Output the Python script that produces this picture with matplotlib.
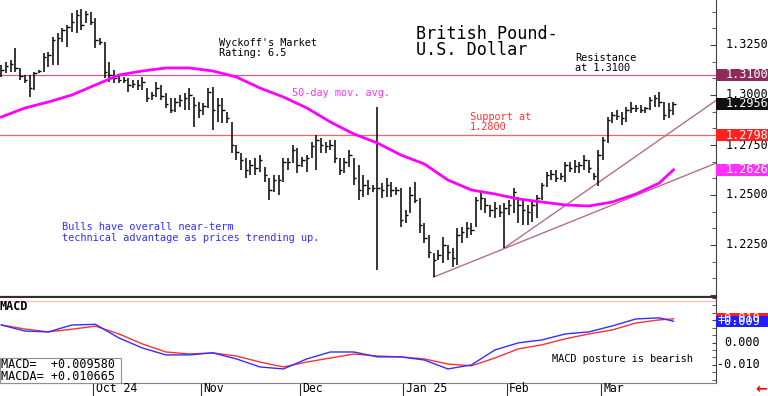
import numpy as np
import pandas as pd
import matplotlib
matplotlib.use("Agg")
import matplotlib.pyplot as plt
from matplotlib.patches import Rectangle
from matplotlib.ticker import MultipleLocator, AutoMinorLocator

plt.rcParams["font.family"] = ["DejaVu Sans Mono", "DejaVu Sans"]

# ------------------------------------------------------------
# Data
# ------------------------------------------------------------

# trading days shown: weekdays, New Year's Day left out
dates = pd.bdate_range("2024-09-03", "2025-03-24")
dates = dates[dates != pd.Timestamp("2025-01-01")]

highs = [
    1.3150, 1.3165, 1.3175, 1.3235, 1.3135, 1.3100, 1.3100, 1.3115, 1.3125, 1.3210,
    1.3215, 1.3290, 1.3310, 1.3335, 1.3350, 1.3410, 1.3425, 1.3430, 1.3420, 1.3415,
    1.3385, 1.3285, 1.3265, 1.3165, 1.3125, 1.3100, 1.3090, 1.3085, 1.3075, 1.3075,
    1.3090, 1.3035, 1.3015, 1.3065, 1.3050, 1.3010, 1.2985, 1.2985, 1.3000, 1.3010,
    1.3035, 1.2990, 1.2965, 1.2960, 1.3035, 1.3040, 1.2985, 1.2985, 1.2915, 1.2865,
    1.2750, 1.2710, 1.2685, 1.2675, 1.2685, 1.2700, 1.2640, 1.2585, 1.2600, 1.2600,
    1.2685, 1.2685, 1.2750, 1.2735, 1.2690, 1.2700, 1.2765, 1.2800, 1.2785, 1.2765,
    1.2775, 1.2775, 1.2685, 1.2685, 1.2725, 1.2685, 1.2650, 1.2600, 1.2575, 1.2550,
    1.2940, 1.2560, 1.2585, 1.2565, 1.2540, 1.2535, 1.2425, 1.2540, 1.2565, 1.2485,
    1.2360, 1.2300, 1.2210, 1.2225, 1.2290, 1.2250, 1.2235, 1.2335, 1.2340, 1.2365,
    1.2360, 1.2490, 1.2515, 1.2485, 1.2450, 1.2465, 1.2450, 1.2460, 1.2475, 1.2535,
    1.2490, 1.2475, 1.2450, 1.2475, 1.2500, 1.2560, 1.2615, 1.2625, 1.2625, 1.2610,
    1.2665, 1.2665, 1.2675, 1.2665, 1.2700, 1.2675, 1.2610, 1.2725, 1.2790, 1.2890,
    1.2915, 1.2925, 1.2915, 1.2940, 1.2965, 1.2950, 1.2950, 1.2940, 1.2990, 1.3000,
    1.3015, 1.2965, 1.2960, 1.2965,
]
lows = [
    1.3090, 1.3110, 1.3115, 1.3115, 1.3075, 1.3060, 1.2990, 1.3025, 1.3110, 1.3115,
    1.3140, 1.3150, 1.3150, 1.3265, 1.3240, 1.3315, 1.3310, 1.3325, 1.3360, 1.3350,
    1.3235, 1.3250, 1.3085, 1.3065, 1.3060, 1.3060, 1.3060, 1.3015, 1.3035, 1.3025,
    1.3025, 1.2965, 1.2975, 1.2990, 1.2975, 1.2935, 1.2910, 1.2915, 1.2940, 1.2925,
    1.2925, 1.2840, 1.2885, 1.2900, 1.2935, 1.2825, 1.2865, 1.2860, 1.2860, 1.2710,
    1.2675, 1.2625, 1.2585, 1.2600, 1.2600, 1.2615, 1.2565, 1.2475, 1.2515, 1.2500,
    1.2565, 1.2625, 1.2660, 1.2610, 1.2640, 1.2615, 1.2685, 1.2625, 1.2710, 1.2710,
    1.2725, 1.2660, 1.2600, 1.2610, 1.2640, 1.2550, 1.2475, 1.2490, 1.2500, 1.2515,
    1.2125, 1.2485, 1.2490, 1.2490, 1.2500, 1.2340, 1.2360, 1.2410, 1.2460, 1.2310,
    1.2260, 1.2185, 1.2090, 1.2175, 1.2160, 1.2175, 1.2140, 1.2150, 1.2260, 1.2285,
    1.2300, 1.2340, 1.2425, 1.2410, 1.2390, 1.2385, 1.2390, 1.2235, 1.2400, 1.2410,
    1.2360, 1.2350, 1.2350, 1.2365, 1.2385, 1.2475, 1.2540, 1.2575, 1.2565, 1.2575,
    1.2565, 1.2615, 1.2610, 1.2610, 1.2625, 1.2610, 1.2575, 1.2545, 1.2675, 1.2760,
    1.2860, 1.2875, 1.2850, 1.2865, 1.2910, 1.2915, 1.2910, 1.2910, 1.2925, 1.2940,
    1.2940, 1.2875, 1.2885, 1.2900,
]
closes = [
    1.3125, 1.3145, 1.3155, 1.3135, 1.3095, 1.3075, 1.3035, 1.3110, 1.3120, 1.3190,
    1.3200, 1.3275, 1.3285, 1.3325, 1.3340, 1.3365, 1.3400, 1.3350, 1.3405, 1.3365,
    1.3275, 1.3265, 1.3115, 1.3100, 1.3085, 1.3075, 1.3075, 1.3050, 1.3055, 1.3050,
    1.3065, 1.2985, 1.3000, 1.3035, 1.2995, 1.2955, 1.2925, 1.2965, 1.2975, 1.2985,
    1.3000, 1.2950, 1.2925, 1.2945, 1.3015, 1.2925, 1.2950, 1.2925, 1.2885, 1.2750,
    1.2715, 1.2675, 1.2625, 1.2650, 1.2635, 1.2675, 1.2600, 1.2525, 1.2575, 1.2575,
    1.2665, 1.2665, 1.2725, 1.2650, 1.2675, 1.2685, 1.2745, 1.2775, 1.2750, 1.2745,
    1.2750, 1.2685, 1.2625, 1.2665, 1.2700, 1.2585, 1.2525, 1.2550, 1.2535, 1.2535,
    1.2535, 1.2525, 1.2550, 1.2525, 1.2525, 1.2375, 1.2400, 1.2500, 1.2475, 1.2350,
    1.2285, 1.2215, 1.2175, 1.2200, 1.2250, 1.2215, 1.2185, 1.2300, 1.2315, 1.2335,
    1.2325, 1.2475, 1.2485, 1.2450, 1.2425, 1.2435, 1.2415, 1.2435, 1.2450, 1.2515,
    1.2450, 1.2425, 1.2415, 1.2450, 1.2485, 1.2550, 1.2600, 1.2605, 1.2585, 1.2595,
    1.2650, 1.2635, 1.2645, 1.2650, 1.2675, 1.2635, 1.2595, 1.2700, 1.2775, 1.2875,
    1.2900, 1.2895, 1.2885, 1.2925, 1.2935, 1.2935, 1.2925, 1.2935, 1.2975, 1.2985,
    1.2965, 1.2900, 1.2925, 1.2956,
]

# 50-day moving average, read every 5 bars
MA_IDX = list(range(0, 141, 5)) + [143]
MA_VAL = [
    1.2890, 1.2935, 1.2965, 1.3000, 1.3050, 1.3100, 1.3120, 1.3135, 1.3135, 1.3120,
    1.3090, 1.3035, 1.2990, 1.2935, 1.2865, 1.2805, 1.2760, 1.2700, 1.2655, 1.2575,
    1.2525, 1.2505, 1.2480, 1.2465, 1.2450, 1.2445, 1.2465, 1.2505, 1.2560, 1.2626,
]

# MACD and its average, read every 5 bars
MACD_IDX = list(range(0, 141, 5)) + [143]
MACD = [
    0.0079, 0.0052, 0.0048, 0.0079, 0.0082, 0.0021, -0.0024, -0.0055, -0.0055, -0.0046,
    -0.0073, -0.0109, -0.0118, -0.0073, -0.0042, -0.0042, -0.0064, -0.0064, -0.0078, -0.0118,
    -0.0100, -0.0033, -0.0001, 0.0012, 0.0039, 0.0048, 0.0075, 0.0106, 0.0111, 0.009580,
]
MACDA = [
    0.0079, 0.0061, 0.0048, 0.0060, 0.0074, 0.0039, -0.0006, -0.0042, -0.0051, -0.0046,
    -0.0060, -0.0087, -0.0109, -0.0087, -0.0069, -0.0051, -0.0060, -0.0064, -0.0073, -0.0096,
    -0.0104, -0.0069, -0.0028, -0.0010, 0.0017, 0.0039, 0.0057, 0.0088, 0.0102, 0.010665,
]

# trend lines (bar index, price)
TREND_LOW_X = [92, 153]
TREND_LOW_Y = [1.2090, 1.2668]
TREND_HIGH_X = [107, 153]
TREND_HIGH_Y = [1.2235, 1.2988]

RESISTANCE = 1.3100
SUPPORT = 1.2798
LAST_CLOSE = 1.2956
LAST_MA = 1.2626

MONTH_LABELS = ["Oct 24", "Nov", "Dec", "Jan 25", "Feb", "Mar"]
PRICE_TICKS = [1.2250, 1.2500, 1.2750, 1.3000, 1.3250]

# ------------------------------------------------------------
# Layout
# ------------------------------------------------------------

W, H = 768, 396
fig = plt.figure(figsize=(W / 100, H / 100), dpi=100)
ax = fig.add_axes([0, 99 / H, 716 / W, 297 / H])
ax2 = fig.add_axes([0, 13 / H, 716 / W, 85 / H])

idx = np.arange(len(dates))
XMIN, XMAX = -0.29, 152.05

# ---------- price bars ----------
ax.vlines(idx, lows, highs, color="black", lw=1.1, zorder=3)
ax.hlines(closes, idx, idx + 0.5, color="black", lw=1.0, zorder=3)

ax.plot(MA_IDX, MA_VAL, color="#ff00ff", lw=2, zorder=4)
ax.axhline(RESISTANCE, color="#c0609a", lw=0.9, zorder=2)
ax.axhline(SUPPORT, color="#ff6060", lw=0.9, zorder=2)
ax.plot(TREND_LOW_X, TREND_LOW_Y, color="#b0708f", lw=1, zorder=2)
ax.plot(TREND_HIGH_X, TREND_HIGH_Y, color="#b0708f", lw=1, zorder=2)

ax.set_xlim(XMIN, XMAX)
ax.set_ylim(1.1990, 1.3475)
ax.set_xticks([])
ax.yaxis.tick_right()
ax.yaxis.set_major_locator(MultipleLocator(0.025))
ax.yaxis.set_minor_locator(AutoMinorLocator(3))
ax.tick_params(axis="y", which="both", direction="in", labelright=False,
               color="#404040")
ax.tick_params(axis="y", which="major", length=4)
ax.tick_params(axis="y", which="minor", length=3)
for s in ["left", "top"]:
    ax.spines[s].set_visible(False)
ax.spines["right"].set_color("#404040")
ax.spines["bottom"].set_color("#303030")
ax.spines["bottom"].set_linewidth(1.6)

ytr = ax.get_yaxis_transform()
for v in PRICE_TICKS:
    ax.text(726 / 716, v, f"{v:.4f}", transform=ytr, fontsize=8.5,
            va="center", ha="left", clip_on=False, zorder=3)

BOX_W = 52 / 716
for v, c in [(RESISTANCE, "#8c2a5a"), (LAST_CLOSE, "#101010"),
             (SUPPORT, "#ff2020"), (LAST_MA, "#ff30ff")]:
    ax.add_patch(Rectangle((1.0, v - 0.003), BOX_W + 0.01, 0.006, transform=ytr,
                           facecolor=c, edgecolor="none", clip_on=False, zorder=6))
    ax.text(726 / 716, v, f"{v:.4f}", transform=ytr, fontsize=8.5, color="white",
            va="center", ha="left", clip_on=False, zorder=7)

# ---------- MACD ----------
ax2.plot(MACD_IDX, MACDA, color="#ff3030", lw=1, zorder=3)
ax2.plot(MACD_IDX, MACD, color="#3030ff", lw=1, zorder=4)
ax2.axhline(0.0188, color="#ffb0b0", lw=0.8)
ax2.set_xlim(XMIN, XMAX)
ax2.set_ylim(-0.0181, 0.0200)

month_start = [i for i in range(1, len(dates)) if dates[i].month != dates[i - 1].month]
seps = [i - 0.5 for i in month_start]
ax2.set_xticks(seps)
ax2.set_xticklabels([])
ax2.tick_params(axis="x", direction="out", length=10, color="#303030")
xtr = ax2.get_xaxis_transform()
for s, lab in zip(seps, MONTH_LABELS):
    ax2.text(s + 0.55, -0.145, lab, transform=xtr, fontsize=8.3, va="bottom",
             ha="left", clip_on=False)

ax2.yaxis.tick_right()
ax2.yaxis.set_major_locator(MultipleLocator(0.01))
ax2.yaxis.set_minor_locator(AutoMinorLocator(3))
ax2.tick_params(axis="y", which="both", direction="in", labelright=False,
                color="#404040", length=3)
for s in ["left", "top"]:
    ax2.spines[s].set_visible(False)
ax2.spines["right"].set_color("#404040")
ax2.spines["bottom"].set_color("#808080")

ytr2 = ax2.get_yaxis_transform()
for v in [0.0, -0.01]:
    ax2.text(760 / 716, v, f"{v:.3f}", transform=ytr2, fontsize=8.5,
             va="center", ha="right", clip_on=False)
for v, c in [(MACDA[-1], "#ff2020"), (MACD[-1], "#2020ff")]:
    shown = np.trunc(v * 1000) / 1000  # the chart cuts to three decimals
    ax2.add_patch(Rectangle((1.0, v - 0.0025), BOX_W + 0.01, 0.005, transform=ytr2,
                            facecolor=c, edgecolor="none", clip_on=False, zorder=6))
    ax2.text(717 / 716, v, f"{shown:+.3f}", transform=ytr2, fontsize=8.5, color="white",
             va="center", ha="left", clip_on=False, zorder=7)

fig.text(0 / W, 1 - 309.5 / H, "MACD", fontsize=8.5, fontweight="bold", va="baseline")

# value box
fig.patches.append(Rectangle((0, 13 / H), 121 / W, 25 / H, transform=fig.transFigure,
                             facecolor="white", edgecolor="#909090", lw=0.8, zorder=5))
fig.text(1 / W, 1 - 367.5 / H, f"MACD=  {MACD[-1]:+.6f}", fontsize=8.5,
         va="baseline", zorder=6)
fig.text(1 / W, 1 - 380 / H, f"MACDA= {MACDA[-1]:+.6f}", fontsize=8.5,
         va="baseline", zorder=6)


# ---------- annotations ----------
def label(x, y, s, **kw):
    fig.text(x / W, 1 - y / H, s, va="baseline", **kw)


label(219, 46, "Wyckoff's Market", fontsize=7.4)
label(219, 56, "Rating: 6.5", fontsize=7.4)
label(416, 39, "British Pound-", fontsize=12.1)
label(416, 55, "U.S. Dollar", fontsize=12.1)
label(575, 61, "Resistance", fontsize=7.4)
label(575, 71, "at 1.3100", fontsize=7.4)
label(292, 96, "50-day mov. avg.", fontsize=7.4, color="#ff33ff")
label(470, 120, "Support at", fontsize=7.4, color="#ff3333")
label(470, 130, "1.2800", fontsize=7.4, color="#ff3333")
label(61.5, 230, "Bulls have overall near-term", fontsize=7.4, color="#3030ff")
label(61.5, 241, "technical advantage as prices trending up.", fontsize=7.4,
      color="#3030ff")
label(551.5, 361.5, "MACD posture is bearish", fontsize=7.4)
label(767, 393, "\u2190", fontsize=10, color="red", ha="right",
      family="DejaVu Sans", fontweight="bold")

fig.savefig("out.png", dpi=100)
